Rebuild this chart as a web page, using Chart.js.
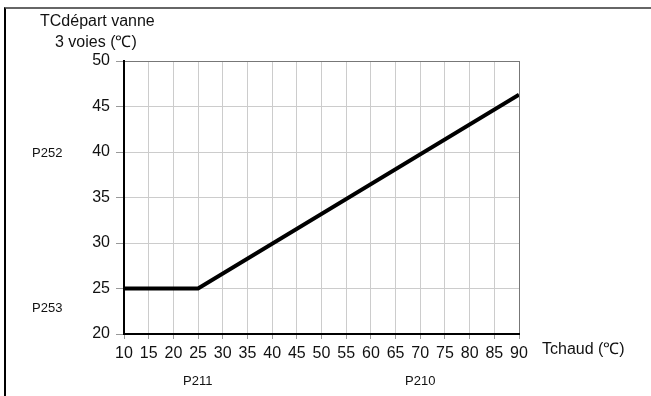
<!DOCTYPE html>
<html>
<head>
<meta charset="utf-8">
<script src="https://cdn.jsdelivr.net/npm/chart.js@4"></script>
<style>
  html, body { margin: 0; padding: 0; background: #fff; }
  #wrap { position: relative; width: 651px; height: 396px; font-family: "Liberation Sans", Arial, sans-serif; color: #111; }
  #frame { position: absolute; left: 4px; top: 7px; right: 0; bottom: 0; border-top: 2px solid #666; border-left: 2px solid #000; }
  canvas { position: absolute; left: 0; top: 0; }
  .lbl { position: absolute; font-size: 13px; white-space: nowrap; line-height: 16px; }
  .big { font-size: 16px; line-height: 18px; }
</style>
</head>
<body>
<div id="wrap">
  <div id="frame"></div>
  <canvas id="grafico" width="651" height="396"></canvas>
  <div class="lbl big" style="left:40px; top:12px;">TCdépart vanne</div>
  <div class="lbl big" style="left:55px; top:33px;">3 voies (℃)</div>
  <div class="lbl" style="left:32px; top:145px;">P252</div>
  <div class="lbl" style="left:32px; top:300px;">P253</div>
  <div class="lbl big" style="left:542px; top:340px;">Tchaud (℃)</div>
  <div class="lbl" style="left:183px; top:373px;">P211</div>
  <div class="lbl" style="left:405px; top:373px;">P210</div>
</div>
<script>
// courbe de chauffe
const tchaud = [10, 25, 90];
const tdepart = [25, 25, 46.3];
const xTicks = [10, 90, 5];   // min, max, pas
const yTicks = [20, 50, 5];

const pts = tchaud.map(function(v, i){ return {x: v, y: tdepart[i]}; });

function gridColor(max){
    return function(ctx){
        return (ctx.tick && ctx.tick.value === max) ? '#777' : '#cccccc';
    };
}

const ctx = document.getElementById('grafico').getContext('2d');
const myChart = new Chart(ctx, {
    type: 'line',
    data: {
        datasets: [{
            data: pts,
            borderColor: '#000',
            borderWidth: 4,
            pointRadius: 0,
            fill: false,
            tension: 0
        }]
    },
    options: {
        responsive: false,
        animation: false,
        layout: { padding: { left: 0, top: 61, right: 132, bottom: 0 } },
        plugins: {
            legend: { display: false },
            tooltip: { enabled: false }
        },
        scales: {
            x: {
                type: 'linear',
                min: xTicks[0], max: xTicks[1],
                afterFit: function(s){ s.height = 62; },
                ticks: {
                    stepSize: xTicks[2],
                    color: '#111',
                    padding: 5,
                    maxRotation: 0,
                    autoSkip: false,
                    font: { family: 'Liberation Sans', size: 16 }
                },
                grid: { color: gridColor(xTicks[1]), tickLength: 5, tickColor: '#999' },
                border: { color: '#000', width: 2 }
            },
            y: {
                min: yTicks[0], max: yTicks[1],
                afterFit: function(s){ s.width = 124; },
                ticks: {
                    stepSize: yTicks[2],
                    color: '#111',
                    padding: 6,
                    font: { family: 'Liberation Sans', size: 16 }
                },
                grid: { color: gridColor(yTicks[1]), tickLength: 8, tickColor: '#999' },
                border: { color: '#000', width: 2 }
            }
        }
    }
});
</script>
</body>
</html>
